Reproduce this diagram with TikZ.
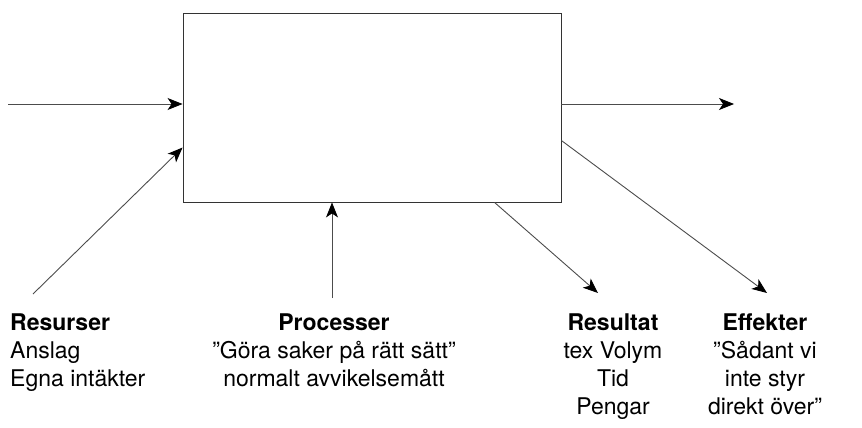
\documentclass[tikz,border=0pt]{standalone}
\usepackage{fontspec}
\setmainfont{TeX Gyre Heros}
\usetikzlibrary{arrows.meta,calc,positioning}

\begin{document}
\begin{tikzpicture}[x=1pt,y=-1pt,
    flow/.style={draw=black!70, line width=0.9pt, -{Stealth[black,length=15pt,width=12pt,inset=4pt]}},
    txt/.style={inner sep=0pt, font=\fontsize{23}{28}\selectfont, align=center, anchor=north}]
    \useasboundingbox (0,0) rectangle (862,428);
    \node[draw=black!80, line width=0.9pt, minimum width=378pt, minimum height=189pt, inner sep=0pt] (box) at (372,107.5) {};

    \coordinate (in) at (8,104);
    \coordinate (res) at (33,294);
    \coordinate (proc) at (332,298);
    \coordinate (out) at (734,104);
    \coordinate (rslt) at (598,293);
    \coordinate (eff) at (767,293);

    \draw[flow] (in) -- (in -| box.west);
    \draw[flow] (res) -- ($(box.north west)+(0,135)$);
    \draw[flow] (proc) -- (proc |- box.south);
    \draw[flow] (out -| box.east) -- (out);
    \draw[flow] ($(box.south west)+(312,0)$) -- (rslt);
    \draw[flow] ($(box.north east)+(0,128)$) -- (eff);

    \node[txt, anchor=north west, align=left] (resurser) at (10,314) {\textbf{Resurser}\\Anslag\\Egna intäkter};
    \node[txt] (processer) at (334,314) {\textbf{Processer}\\”Göra saker på rätt sätt”\\normalt avvikelsemått};
    \node[txt] (resultat) at (613,314) {\textbf{Resultat}\\tex Volym\\Tid\\Pengar};
    \node[txt] (effekter) at (765,314) {\textbf{Effekter}\\”Sådant vi\\inte styr\\direkt över”};
\end{tikzpicture}
\end{document}
